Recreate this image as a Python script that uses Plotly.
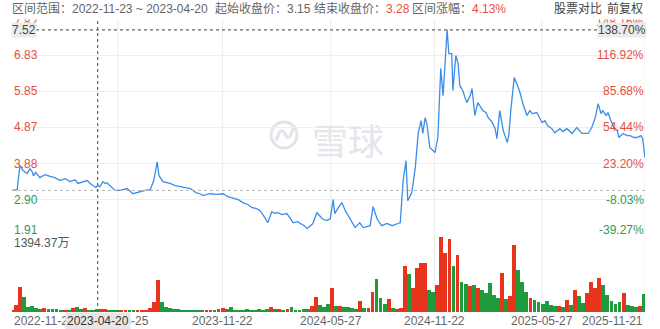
import numpy as np
import pandas as pd
import plotly.graph_objects as go

# ---------------- data ----------------
price_dates = [
    "2022-11-23", "2022-12-02", "2022-12-05", "2022-12-07", "2022-12-12", "2022-12-19", "2022-12-24",
    "2022-12-28", "2022-12-30", "2023-01-03", "2023-01-10", "2023-01-19", "2023-01-28", "2023-02-05",
    "2023-02-14", "2023-02-23", "2023-03-03", "2023-03-12", "2023-03-17", "2023-03-26", "2023-04-02",
    "2023-04-07", "2023-04-12", "2023-04-17", "2023-04-20", "2023-04-24", "2023-04-29", "2023-05-03",
    "2023-05-06", "2023-05-11", "2023-05-20", "2023-05-29", "2023-06-10", "2023-06-20", "2023-07-02",
    "2023-07-11", "2023-07-20", "2023-07-26", "2023-08-01", "2023-08-04", "2023-08-11", "2023-08-23",
    "2023-09-01", "2023-09-09", "2023-09-18", "2023-09-27", "2023-10-07", "2023-10-14", "2023-10-19",
    "2023-10-31", "2023-11-11", "2023-11-23", "2023-12-01", "2023-12-10", "2023-12-19", "2023-12-27",
    "2024-01-05", "2024-01-12", "2024-01-19", "2024-01-26", "2024-01-31", "2024-02-03", "2024-02-08",
    "2024-02-12", "2024-02-15", "2024-02-21", "2024-02-24", "2024-03-04", "2024-03-12", "2024-03-17",
    "2024-03-23", "2024-03-30", "2024-04-04", "2024-04-11", "2024-04-16", "2024-04-21", "2024-04-26",
    "2024-05-03", "2024-05-08", "2024-05-12", "2024-05-20", "2024-05-26", "2024-05-31", "2024-06-03",
    "2024-06-08", "2024-06-15", "2024-06-21", "2024-06-29", "2024-07-04", "2024-07-08", "2024-07-13",
    "2024-07-16", "2024-07-22", "2024-07-29", "2024-08-03", "2024-08-08", "2024-08-11", "2024-08-15",
    "2024-08-20", "2024-08-23", "2024-09-01", "2024-09-10", "2024-09-20", "2024-09-24", "2024-09-29",
    "2024-10-04", "2024-10-07", "2024-10-11", "2024-10-14", "2024-10-20", "2024-10-25", "2024-10-30",
    "2024-11-02", "2024-11-06", "2024-11-09", "2024-11-14", "2024-11-20", "2024-11-23", "2024-11-28",
    "2024-12-03", "2024-12-07", "2024-12-14", "2024-12-17", "2024-12-22", "2024-12-24", "2024-12-29",
    "2025-01-02", "2025-01-05", "2025-01-10", "2025-01-17", "2025-01-23", "2025-01-26", "2025-01-31",
    "2025-02-05", "2025-02-14", "2025-02-19", "2025-02-23", "2025-03-02", "2025-03-07", "2025-03-10",
    "2025-03-15", "2025-03-21", "2025-03-28", "2025-03-31", "2025-04-03", "2025-04-09", "2025-04-16",
    "2025-04-19", "2025-04-24", "2025-05-01", "2025-05-06", "2025-05-10", "2025-05-18", "2025-05-24",
    "2025-05-27", "2025-06-01", "2025-06-06", "2025-06-13", "2025-06-18", "2025-06-27", "2025-07-02",
    "2025-07-09", "2025-07-18", "2025-07-26", "2025-08-04", "2025-08-15", "2025-08-21", "2025-08-27",
    "2025-09-01", "2025-09-06", "2025-09-09", "2025-09-15", "2025-09-18", "2025-09-23", "2025-09-28",
    "2025-10-04", "2025-10-07", "2025-10-14", "2025-10-21", "2025-10-26", "2025-11-02", "2025-11-07",
    "2025-11-14", "2025-11-17", "2025-11-21",
]
price_close = [
    3.15, 3.17, 3.60, 3.83, 3.69, 3.61, 3.74,
    3.66, 3.55, 3.64, 3.50, 3.58, 3.53, 3.50,
    3.42, 3.47, 3.39, 3.44, 3.34, 3.39, 3.42,
    3.34, 3.28, 3.23, 3.28, 3.25, 3.39, 3.34,
    3.36, 3.28, 3.15, 3.15, 3.20, 3.06, 3.12,
    3.15, 3.17, 3.42, 3.93, 3.55, 3.39, 3.34,
    3.28, 3.25, 3.23, 3.20, 3.09, 3.06, 3.01,
    3.06, 3.04, 3.06, 2.98, 2.93, 2.90, 2.82,
    2.76, 2.68, 2.66, 2.60, 2.49, 2.41, 2.27,
    2.46, 2.57, 2.52, 2.55, 2.49, 2.52, 2.41,
    2.27, 2.30, 2.25, 2.19, 2.11, 2.17, 2.25,
    2.55, 2.44, 2.38, 2.33, 2.38, 2.90, 2.52,
    2.66, 2.82, 2.60, 2.38, 2.22, 2.14, 2.22,
    2.27, 2.14, 2.17, 2.19, 2.71, 2.55, 2.38,
    2.25, 2.19, 2.25, 2.19, 2.25, 2.27, 3.42,
    3.96, 2.87, 2.98, 3.09, 3.77, 4.70, 5.05,
    4.70, 5.13, 4.97, 4.32, 4.23, 4.18, 4.59,
    6.47, 5.73, 7.52, 6.87, 6.87, 5.87, 6.82,
    6.60, 6.00, 5.87, 5.54, 5.73, 5.92, 5.19,
    5.54, 5.32, 5.27, 5.13, 5.00, 4.83, 4.56,
    5.32, 4.78, 4.45, 4.70, 5.32, 6.22, 5.95,
    5.81, 5.51, 5.19, 5.32, 5.24, 5.27, 5.11,
    5.00, 5.05, 4.91, 4.83, 4.72, 4.83, 4.75,
    4.83, 4.70, 4.86, 4.70, 4.70, 4.86, 5.13,
    5.51, 5.24, 5.32, 5.19, 5.27, 5.05, 4.86,
    4.78, 4.59, 4.70, 4.64, 4.64, 4.59, 4.59,
    4.64, 4.56, 4.04,
]

# weekly volume (万股), weeks starting 2022-11-23
vol_start = "2022-11-23"
vol_wan = [
    30, 130, 460, 280, 95, 110, 75, 60, 70, 55, 50, 65, 45, 40, 45, 80, 90, 50, 70, 45,
    40, 55, 65, 50, 40, 35, 45, 40, 35, 40, 30, 35, 30, 45, 80, 190, 595, 180, 90, 70,
    60, 50, 45, 40, 35, 30, 35, 30, 40, 45, 35, 50, 70, 55, 85, 45, 40, 45, 50, 45,
    40, 50, 45, 55, 90, 60, 50, 45, 55, 85, 40, 45, 65, 55, 110, 280, 130, 90, 150, 440,
    110, 110, 100, 90, 70, 60, 205, 80, 70, 380, 620, 260, 150, 240, 80, 60, 70, 855, 700, 450,
    820, 910, 920, 410, 380, 500, 1394.37, 1100, 1360, 850, 1060, 560, 520, 480, 500, 450, 400, 350, 540, 320,
    260, 725, 250, 300, 1245, 780, 560, 380, 260, 220, 180, 140, 200, 130, 110, 120, 100, 220, 130, 410,
    300, 160, 350, 560, 450, 632, 500, 320, 200, 150, 180, 350, 130, 110, 90, 120, 335,
]
vol_max_label = "1394.37万"

date_ticks = ["2022-11-23", "2023-05-25", "2023-11-22", "2024-05-27", "2024-11-22", "2025-05-27", "2025-11-21"]
price_ticks = [7.82, 6.83, 5.85, 4.87, 3.88, 2.90, 1.91]
pct_ticks = ["148.16%", "116.92%", "85.68%", "54.44%", "23.20%", "-8.03%", "-39.27%"]

base_price = 3.15
range_start, range_end = "2022-11-23", "2023-04-20"
end_price, range_pct = "3.28", "4.13%"
max_price, max_pct = 7.52, "138.70%"

# ---------------- styling ----------------
W, H = 660, 329
RED, GREEN = "#e4513e", "#2f9a55"
BAR_RED, BAR_GREEN = "#e8341d", "#1f9a3c"
FONT = "Liberation Sans, Noto Sans CJK SC, sans-serif"

def py(px):  # pixel from top -> paper
    return 1 - px / H

def pxx(px):
    return px / W

x_dom = [pxx(12), pxx(645)]
price_dom = [py(236), py(18.8)]
vol_dom = [py(312), py(237)]

vol_dates = pd.date_range(vol_start, periods=len(vol_wan), freq="7D")
pd_num = pd.to_datetime(price_dates).astype("int64").to_numpy()
vd_num = vol_dates.astype("int64").to_numpy()
week_ns = 7 * 86400 * 10**9
p_now = np.interp(vd_num, pd_num, price_close)
p_prev = np.interp(vd_num - week_ns, pd_num, price_close)
bar_colors = [BAR_RED if a >= b else BAR_GREEN for a, b in zip(p_now, p_prev)]

fig = go.Figure()
fig.add_trace(go.Bar(
    x=vol_dates, y=vol_wan, yaxis="y2", marker=dict(color=bar_colors, line=dict(width=0)),
    width=6.6 * 86400 * 1000, hoverinfo="skip",
))
fig.add_trace(go.Scatter(
    x=price_dates, y=price_close, mode="lines",
    line=dict(color="#3a8dea", width=1.3), hoverinfo="skip",
))

shapes = []
# vertical grid lines
for d in date_ticks[1:]:
    shapes.append(dict(type="line", xref="x", yref="paper", x0=d, x1=d, y0=py(312), y1=py(18.8),
                       line=dict(color="#ebebeb", width=1), layer="below"))
# base price dotted line
shapes.append(dict(type="line", xref="paper", yref="y", x0=x_dom[0], x1=x_dom[1], y0=base_price, y1=base_price,
                   line=dict(color="#b5b5b5", width=1, dash="dot")))
# crosshair
shapes.append(dict(type="line", xref="x", yref="paper", x0=range_end, x1=range_end, y0=py(312), y1=py(19),
                   line=dict(color="#666666", width=1.2, dash="dot")))
shapes.append(dict(type="line", xref="paper", yref="y", x0=pxx(36), x1=pxx(602), y0=max_price, y1=max_price,
                   line=dict(color="#666666", width=1.2, dash="dot")))
# watermark logo
cx, cy, r = 284, 135, 13
shapes.append(dict(type="circle", xref="paper", yref="paper",
                   x0=pxx(cx - r), x1=pxx(cx + r), y0=py(cy + r), y1=py(cy - r),
                   line=dict(color="#e1e4e9", width=3), layer="below"))
path = (f"M {pxx(276)},{py(141)} Q {pxx(281)},{py(125)} {pxx(285)},{py(134)} "
        f"T {pxx(293)},{py(128)}")
shapes.append(dict(type="path", xref="paper", yref="paper", path=path,
                   line=dict(color="#e1e4e9", width=3), layer="below"))

ann = []
# watermark text
ann.append(dict(text="雪球", xref="paper", yref="paper", x=pxx(348), y=py(139), showarrow=False,
                font=dict(family="Noto Sans CJK SC", size=36, color="#e3e6eb"), xanchor="center", yanchor="middle"))
# price / pct tick labels
n = len(price_ticks)
for i, (p, pc) in enumerate(zip(price_ticks, pct_ticks)):
    col = RED if p > base_price else GREEN
    shift = 6 if i == n - 1 else (-3 if i == 0 else 0)
    ann.append(dict(text=f"{p:.2f}", xref="paper", yref="y", x=pxx(12), y=p, yshift=shift,
                    xanchor="left", yanchor="middle", showarrow=False,
                    font=dict(family=FONT, size=12, color=col)))
    ann.append(dict(text=pc, xref="paper", yref="y", x=pxx(646), y=p, yshift=shift,
                    xanchor="right", yanchor="middle", showarrow=False,
                    font=dict(family=FONT, size=12, color=col)))
# max price boxes
ann.append(dict(text=f"{max_price:.2f}", xref="paper", yref="y", x=pxx(11), y=max_price,
                xanchor="left", yanchor="middle", showarrow=False, bgcolor="#ebebeb", borderpad=0,
                font=dict(family=FONT, size=12, color="#444444")))
ann.append(dict(text=max_pct, xref="paper", yref="y", x=pxx(647), y=max_price,
                xanchor="right", yanchor="middle", showarrow=False, bgcolor="#ebebeb", borderpad=0,
                font=dict(family=FONT, size=12, color="#444444")))
# volume max label
ann.append(dict(text=vol_max_label, xref="paper", yref="paper", x=pxx(12), y=py(243),
                xanchor="left", yanchor="middle", showarrow=False,
                font=dict(family=FONT, size=12, color="#555555")))
# date labels
for i, d in enumerate(date_ticks):
    xa = "left" if i == 0 else ("right" if i == len(date_ticks) - 1 else "center")
    ann.append(dict(text=d, xref="x", yref="paper", x=d, y=py(321), xanchor=xa, yanchor="middle",
                    showarrow=False, font=dict(family=FONT, size=12, color="#666666")))
ann.append(dict(text=range_end, xref="x", yref="paper", x=range_end, y=py(321), xanchor="center",
                yanchor="middle", showarrow=False, bgcolor="#e6e6e6", borderpad=1,
                font=dict(family=FONT, size=12, color="#333333")))
# header cover
ann.append(dict(text=" ", xref="paper", yref="paper", x=0, y=1, xanchor="left", yanchor="top",
                width=W, height=18, bgcolor="white", showarrow=False, borderpad=0))
hdr_font = dict(family=FONT, size=12, color="#666666")
ann.append(dict(text=f"区间范围：{range_start} ~ {range_end}", xref="paper", yref="paper", x=pxx(10), y=py(9),
                xanchor="left", yanchor="middle", showarrow=False, font=hdr_font))
ann.append(dict(text=f"起始收盘价：{base_price:.2f}", xref="paper", yref="paper", x=pxx(213), y=py(9),
                xanchor="left", yanchor="middle", showarrow=False, font=hdr_font))
ann.append(dict(text=f"结束收盘价：<span style='color:{RED}'>{end_price}</span>", xref="paper", yref="paper",
                x=pxx(312), y=py(9), xanchor="left", yanchor="middle", showarrow=False, font=hdr_font))
ann.append(dict(text=f"区间涨幅：<span style='color:{RED}'>{range_pct}</span>", xref="paper", yref="paper",
                x=pxx(410), y=py(9), xanchor="left", yanchor="middle", showarrow=False, font=hdr_font))
ann.append(dict(text="股票对比", xref="paper", yref="paper", x=pxx(552), y=py(9),
                xanchor="left", yanchor="middle", showarrow=False,
                font=dict(family=FONT, size=12, color="#444444")))
ann.append(dict(text="前复权", xref="paper", yref="paper", x=pxx(605), y=py(9),
                xanchor="left", yanchor="middle", showarrow=False,
                font=dict(family=FONT, size=12, color="#444444")))

fig.update_layout(
    width=W, height=H, margin=dict(l=0, r=0, t=0, b=0),
    paper_bgcolor="white", plot_bgcolor="white", showlegend=False,
    bargap=0,
    xaxis=dict(type="date", domain=x_dom, range=[date_ticks[0], date_ticks[-1]],
               showgrid=False, showticklabels=False, zeroline=False, showline=False, ticks=""),
    yaxis=dict(domain=price_dom, range=[price_ticks[-1], price_ticks[0]], tickvals=price_ticks,
               showticklabels=False, gridcolor="#eeeeee", gridwidth=1, zeroline=False, ticks=""),
    yaxis2=dict(domain=vol_dom, range=[0, max(vol_wan)], showgrid=False, showticklabels=False,
                zeroline=False, ticks=""),
    shapes=shapes, annotations=ann,
)

fig.write_html("out.html")
